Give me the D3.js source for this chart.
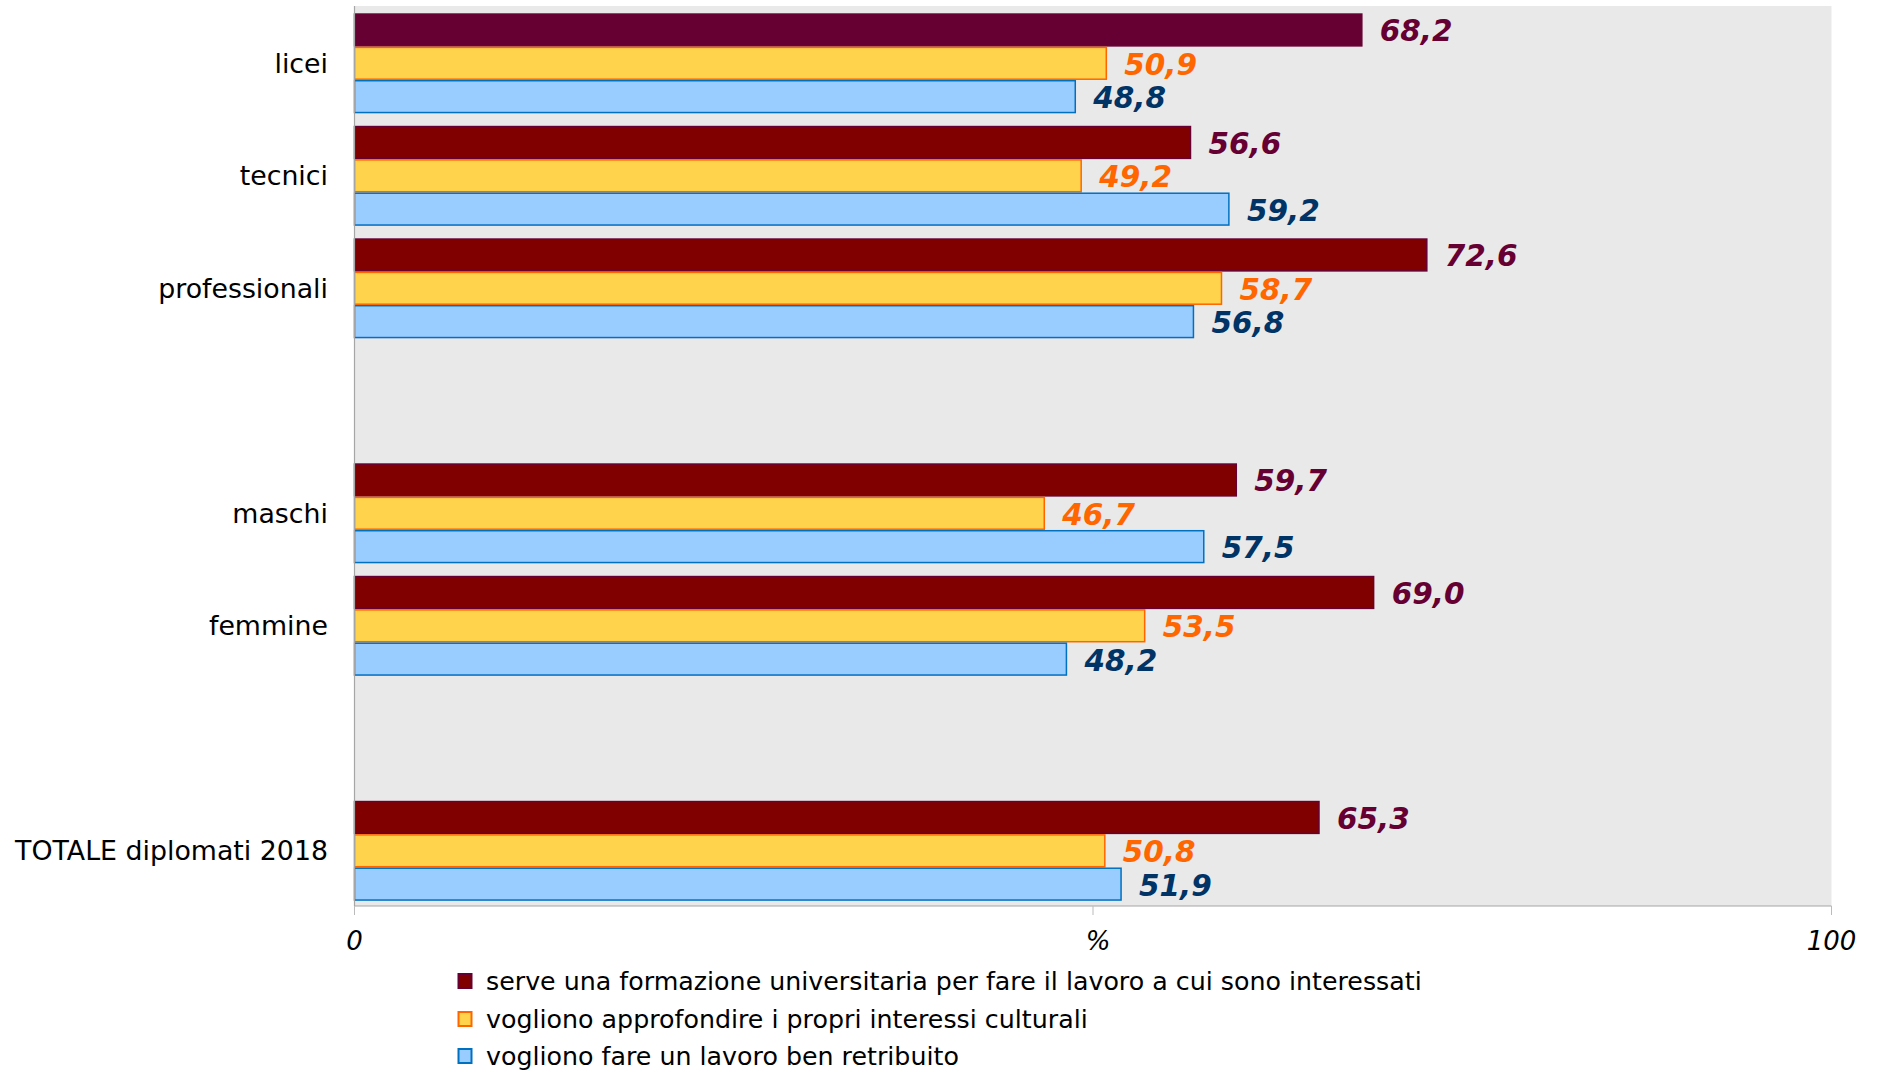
<!DOCTYPE html>
<html><head><meta charset="utf-8">
<script src="https://cdn.jsdelivr.net/npm/d3@7"></script>
<style>body{margin:0;background:#fff}svg{display:block}</style>
</head><body>
<svg id="c" width="1877" height="1070"></svg>
<script>
const categories = ["licei","tecnici","professionali","","maschi","femmine"," ","TOTALE diplomati 2018"];
const seriesNames = [
  "serve una formazione universitaria per fare il lavoro a cui sono interessati",
  "vogliono approfondire i propri interessi culturali",
  "vogliono fare un lavoro ben retribuito"
];
const formazione = [68.2, 56.6, 72.6, null, 59.7, 69.0, null, 65.3];
const interessi  = [50.9, 49.2, 58.7, null, 46.7, 53.5, null, 50.8];
const retribuito = [48.8, 59.2, 56.8, null, 57.5, 48.2, null, 51.9];
const xTicks = [0, 50, 100];
const xTickLabels = ["0", "%", "100"];

const fills   = ["#800000", "#FFD34B", "#99CCFF"];
const strokes = ["#660033", "#FF6600", "#0070C0"];
const labelColors = ["#660033", "#FF6600", "#003366"];

const svg = d3.select("#c");
const L = 354.5, R = 1831.5, T = 6, B = 906;
const x = d3.scaleLinear().domain([0, 100]).range([L, R]);
const y = d3.scaleBand().domain(categories).range([T, B]).padding(0);
const inner = d3.scaleBand().domain([0,1,2]).range([7.3, 107.3]).padding(0);

svg.append("rect").attr("x", L).attr("y", T).attr("width", R - L).attr("height", B - T).attr("fill", "#E9E9E9");

const series = [formazione, interessi, retribuito];
series.forEach((vals, si) => {
  const g = svg.append("g");
  categories.forEach((cat, ci) => {
    const v = vals[ci];
    if (v == null) return;
    const y0 = y(cat) + inner(si);
    const h = inner.bandwidth();
    const fill = (si === 0 && ci === 0) ? "#660033" : fills[si];
    g.append("rect")
      .attr("x", x(0)).attr("y", y0 + 0.75)
      .attr("width", x(v) - x(0)).attr("height", h - 1.5)
      .attr("fill", fill).attr("stroke", strokes[si]).attr("stroke-width", 1.5);
    g.append("text")
      .attr("x", x(v) + 18).attr("y", y0 + h / 2 + 1.5)
      .attr("dominant-baseline", "central")
      .attr("font-family", "DejaVu Sans").attr("font-weight", "bold").attr("font-style", "italic")
      .attr("font-size", 29.5).attr("fill", labelColors[si])
      .text(d3.format(".1f")(v).replace(".", ","));
  });
});

// axes lines
svg.append("line").attr("x1", L).attr("x2", L).attr("y1", T).attr("y2", B).attr("stroke", "#A6A6A6").attr("stroke-width", 1.2);
svg.append("line").attr("x1", L).attr("x2", R).attr("y1", B).attr("y2", B).attr("stroke", "#A6A6A6").attr("stroke-width", 1.2);
xTicks.forEach((t, i) => {
  svg.append("line").attr("x1", x(t)).attr("x2", x(t)).attr("y1", B).attr("y2", B + 9).attr("stroke", "#BBBBBB").attr("stroke-width", 1);
  svg.append("text").attr("x", x(t) + (t === 50 ? 5 : 0)).attr("y", 941).attr("text-anchor", "middle").attr("dominant-baseline", "central")
    .attr("font-family", "DejaVu Sans").attr("font-style", "italic").attr("font-size", 26).attr("fill", "#000")
    .text(xTickLabels[i]);
});

// category labels
categories.forEach(cat => {
  if (!cat.trim()) return;
  svg.append("text").attr("x", 328).attr("y", y(cat) + y.bandwidth() / 2 + 1)
    .attr("text-anchor", "end").attr("dominant-baseline", "central")
    .attr("font-family", "DejaVu Sans").attr("font-size", 26.8).attr("fill", "#000").text(cat);
});

// legend
const legY = [981, 1019, 1056];
seriesNames.forEach((n, i) => {
  svg.append("rect").attr("x", 458.5).attr("y", legY[i] - 7).attr("width", 13).attr("height", 14)
    .attr("fill", fills[i]).attr("stroke", strokes[i]).attr("stroke-width", 2);
  svg.append("text").attr("x", 486).attr("y", legY[i]).attr("dominant-baseline", "central")
    .attr("font-family", "DejaVu Sans").attr("font-size", 25.3).attr("fill", "#000").text(n);
});
</script>
</body></html>
